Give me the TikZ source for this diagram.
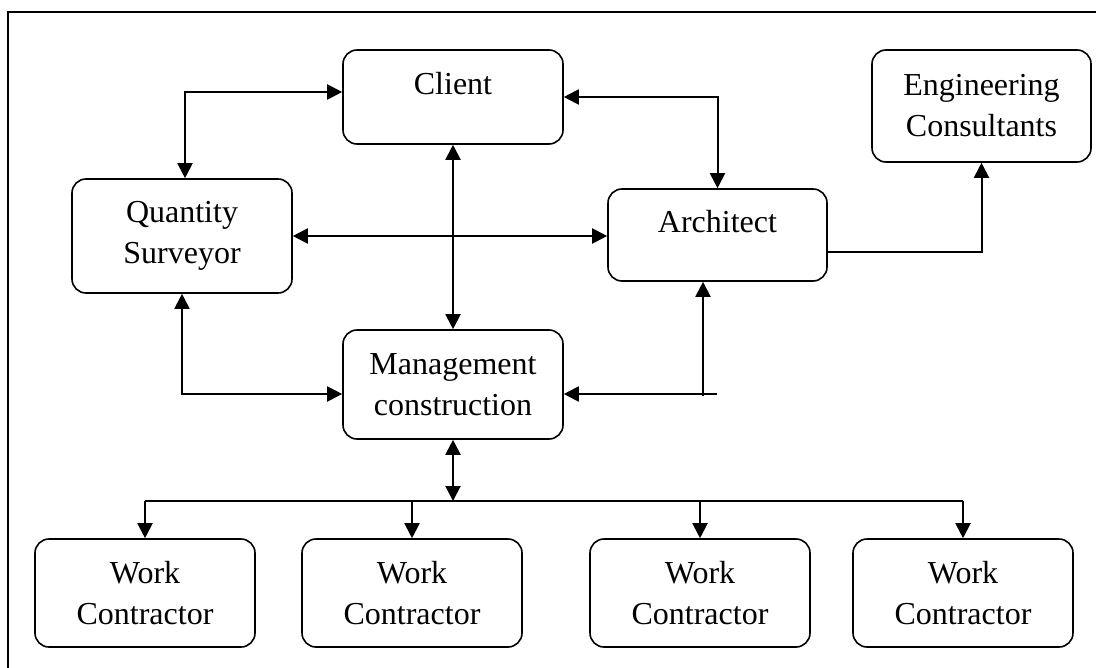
\documentclass[tikz,border=0pt]{standalone}
\usepackage{fontspec}
\setmainfont{Liberation Serif}
\usetikzlibrary{arrows.meta, positioning}

\begin{document}
\begin{tikzpicture}[x=0.5pt, y=-0.5pt, >={Triangle[length=7.5pt,width=7.5pt]}, line width=1pt,
        font=\fontsize{16}{20.5}\selectfont]
        \tikzstyle{box}=[draw, rounded corners=7pt, line width=0.8pt, align=center, minimum width=110pt]
        \tikzstyle{single}=[box, text height=11pt, text depth=13pt]
        \useasboundingbox (0,0) rectangle (1096,668);
        \draw[line width=0.9pt] (1096,12) -- (8,12) -- (8,668);
        \node[single, minimum height=47pt]    (client) at (453,97)    {Client};
        \node[box, minimum height=57pt]       (qs)     at (182,236)   {Quantity\\Surveyor};
        \node[single, minimum height=46pt, minimum width=109.5pt] (arch) at (717.5,235) {Architect};
        \node[box, minimum height=56pt, minimum width=109.5pt]    (eng)  at (981.5,106) {Engineering\\Consultants};
        \node[box, minimum height=54.5pt]     (mgmt)   at (453,384.5) {Management\\construction};
        \node[box, minimum height=54pt]       (wc1)    at (145,593)   {Work\\Contractor};
        \node[box, minimum height=54pt]       (wc2)    at (412,593)   {Work\\Contractor};
        \node[box, minimum height=54pt]       (wc3)    at (700,593)   {Work\\Contractor};
        \node[box, minimum height=54pt]       (wc4)    at (963,593)   {Work\\Contractor};
        \coordinate (bus) at (453,501);
        \coordinate (amid) at (703,396);
        \coordinate (aend) at (717,394);
        % links round the client
        \draw[<->] ([xshift=1.5pt]qs.north) |- ([yshift=2.5pt]client.west);
        \draw[<->] (client.east) -| (arch.north);
        \draw[<->] (qs.east) -- (qs.east -| arch.west);
        \draw[<->] (client.south) -- (mgmt.north);
        \draw[<->] (qs.south) |- ([yshift=-4.75pt]mgmt.west);
        \draw[->] (aend) -- (aend -| mgmt.east);
        \draw[->] (amid) -- (amid |- arch.south);
        \draw[->] ([yshift=-8.5pt]arch.east) -| (eng.south);
        % contractors
        \draw[<->] (mgmt.south) -- (mgmt.south |- bus);
        \draw (wc1.north |- bus) -- (wc4.north |- bus);
        \foreach \i in {1,2,3,4}
            \draw[->] (wc\i.north |- bus) -- (wc\i.north);
\end{tikzpicture}
\end{document}
